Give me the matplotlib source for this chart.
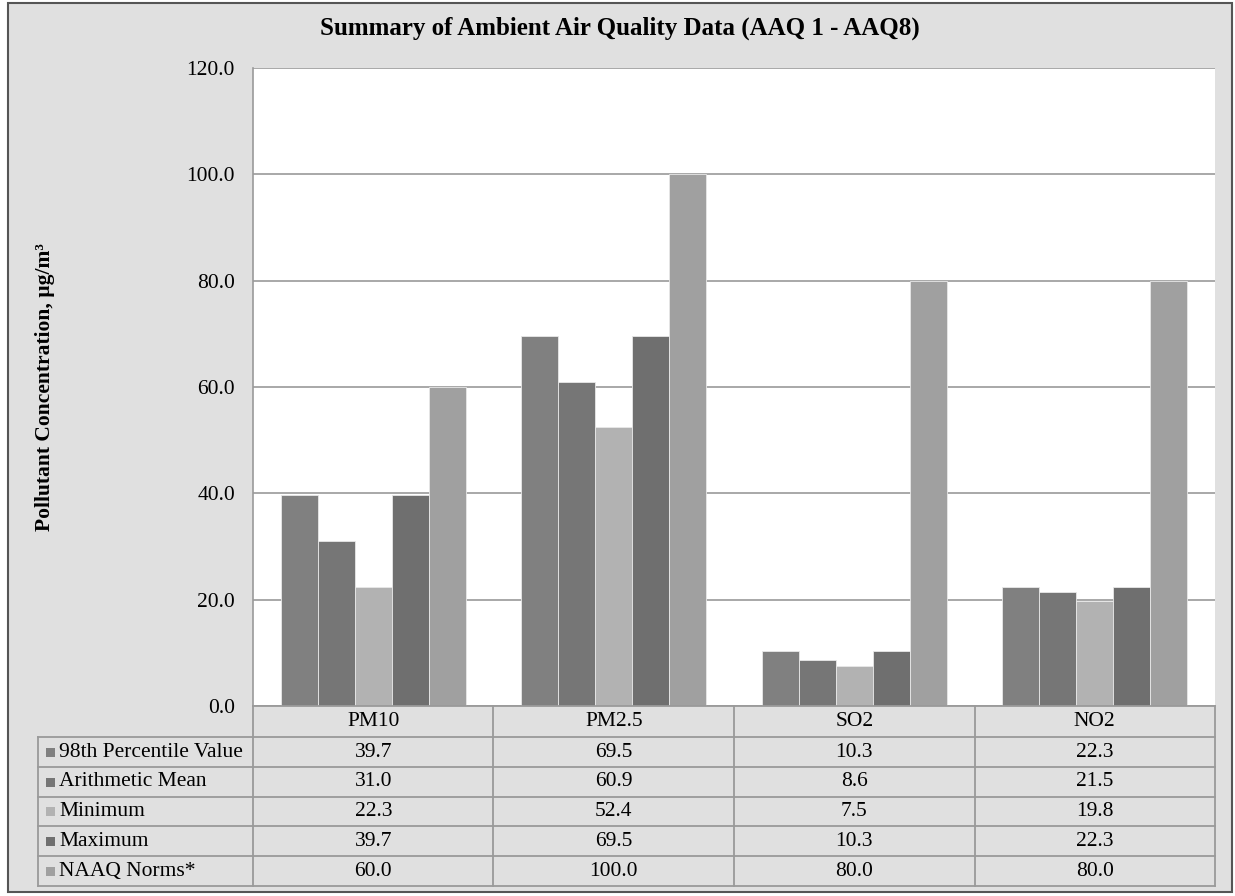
import numpy as np
import matplotlib
matplotlib.use('Agg')
import matplotlib.pyplot as plt
from matplotlib.patches import Rectangle
from matplotlib.lines import Line2D

plt.rcParams['font.family'] = ['Liberation Serif', 'DejaVu Serif']

categories = ['PM10', 'PM2.5', 'SO2', 'NO2']
series_names = ['98th Percentile Value', 'Arithmetic Mean', 'Minimum', 'Maximum', 'NAAQ Norms*']
p98 = [39.7, 69.5, 10.3, 22.3]
mean = [31.0, 60.9, 8.6, 21.5]
minimum = [22.3, 52.4, 7.5, 19.8]
maximum = [39.7, 69.5, 10.3, 22.3]
naaq = [60.0, 100.0, 80.0, 80.0]
series = [p98, mean, minimum, maximum, naaq]
colors = ['#808080', '#767676', '#b2b2b2', '#6f6f6f', '#a0a0a0']
yticks = [0, 20, 40, 60, 80, 100, 120]

W, H = 1235, 896
bg = '#e0e0e0'
grid = '#9a9a9a'
fs = 15.5

fig = plt.figure(figsize=(W / 100, H / 100), dpi=100)
fig.patch.set_facecolor('white')


def fx(px):
    return px / W


def fy(py):
    return 1 - py / H


# outer frame
fig.add_artist(Rectangle((fx(8), fy(892)), fx(1232) - fx(8), fy(3) - fy(892),
                         transform=fig.transFigure, facecolor=bg,
                         edgecolor='#555555', linewidth=1.5, zorder=0))

left, right, top, bottom = 253, 1215, 68, 706
ax = fig.add_axes([fx(left), fy(bottom), fx(right) - fx(left), fy(top) - fy(bottom)])
ax.set_facecolor('white')

n = len(series)
x = np.arange(len(categories))
bw = 0.154
for i, (vals, c) in enumerate(zip(series, colors)):
    ax.bar(x + (i - (n - 1) / 2) * bw, vals, bw, color=c,
           edgecolor='#e8e8e8', linewidth=0.6, zorder=3)

ax.set_xlim(-0.5, len(categories) - 0.5)
ax.set_ylim(0, 120)
ax.set_yticks(yticks)
ax.set_yticklabels(['%.1f' % t for t in yticks], fontsize=fs)
ax.set_xticks([])
ax.yaxis.grid(True, color=grid, linewidth=1.2, zorder=0)
ax.tick_params(axis='y', length=0, pad=13)
for s in ['top', 'right', 'bottom']:
    ax.spines[s].set_visible(False)
ax.spines['left'].set_color(grid)
ax.spines['left'].set_linewidth(1.2)

fig.text(fx(620), fy(28), 'Summary of Ambient Air Quality Data (AAQ 1 - AAQ8)',
         ha='center', va='center', fontsize=18, fontweight='bold')
fig.text(fx(45), fy(387), 'Pollutant Concentration, µg/m³', rotation=90,
         ha='center', va='center', fontsize=fs, fontweight='bold')

# data table below the axes
col_edges = np.linspace(left, right, len(categories) + 1)
row_edges = [706, 737, 767, 797, 826, 856, 886]
label_left = 38
lw = 1.3


def hline(y, x0, x1):
    fig.add_artist(Line2D([fx(x0), fx(x1)], [fy(y), fy(y)], transform=fig.transFigure,
                          color=grid, linewidth=lw))


def vline(xp, y0, y1):
    fig.add_artist(Line2D([fx(xp), fx(xp)], [fy(y0), fy(y1)], transform=fig.transFigure,
                          color=grid, linewidth=lw))


hline(row_edges[0], left, right)
for y in row_edges[1:]:
    hline(y, label_left, right)
vline(label_left, row_edges[1], row_edges[-1])
for xe in col_edges:
    vline(xe, row_edges[0], row_edges[-1])

for j, cat in enumerate(categories):
    cx = (col_edges[j] + col_edges[j + 1]) / 2
    fig.text(fx(cx), fy((row_edges[0] + row_edges[1]) / 2), cat,
             ha='center', va='center', fontsize=fs)

for i, (name, vals, c) in enumerate(zip(series_names, series, colors)):
    yc = (row_edges[i + 1] + row_edges[i + 2]) / 2
    fig.add_artist(Rectangle((fx(46), fy(yc + 4.5)), fx(9), fy(yc - 4.5) - fy(yc + 4.5),
                             transform=fig.transFigure, facecolor=c, edgecolor='none'))
    fig.text(fx(59), fy(yc), name, ha='left', va='center', fontsize=fs)
    for j, v in enumerate(vals):
        cx = (col_edges[j] + col_edges[j + 1]) / 2
        fig.text(fx(cx), fy(yc), '%.1f' % v, ha='center', va='center', fontsize=fs)

fig.savefig('out.png', dpi=100, facecolor=fig.get_facecolor())
